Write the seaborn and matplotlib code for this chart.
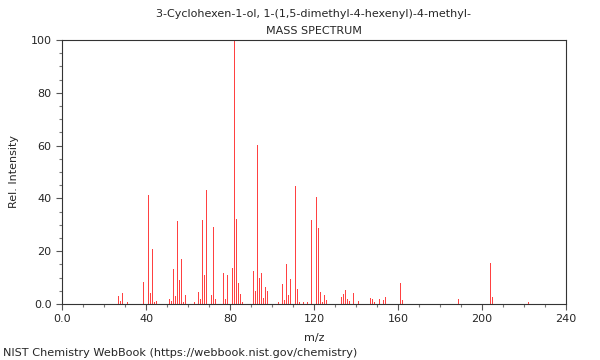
#!/usr/bin/env python3
"""Spectre de masse : 3-Cyclohexen-1-ol, 1-(1,5-dimethyl-4-hexenyl)-4-methyl-"""

import pandas as pd
import matplotlib
matplotlib.use('Agg')
import matplotlib.pyplot as plt
from matplotlib.ticker import MultipleLocator, FixedFormatter, FixedLocator
import seaborn as sns

MZ = [27, 28, 29, 31, 39, 40, 41, 42, 43, 44, 45, 51, 52, 53, 54, 55, 56,
      57, 58, 59, 63, 65, 66, 67, 68, 69, 70, 71, 72, 73, 77, 78, 79, 80,
      81, 82, 83, 84, 85, 86, 91, 92, 93, 94, 95, 96, 97, 98, 103, 105, 106,
      107, 108, 109, 110, 111, 112, 113, 115, 117, 119, 120, 121, 122, 123,
      124, 125, 126, 133, 134, 135, 136, 137, 139, 140, 141, 147, 148, 149,
      151, 153, 154, 161, 162, 189, 204, 205, 222]
INTENSITY = [3.0, 1.0, 4.0, 0.8, 8.3, 2.5, 41.3, 4.0, 20.7, 0.8, 1.0, 1.9,
             1.0, 13.1, 3.0, 31.6, 9.1, 17.0, 0.9, 3.4, 0.8, 4.5, 2.0, 31.8,
             10.9, 43.2, 7.4, 3.3, 29.2, 2.0, 11.7, 2.0, 10.9, 2.1, 13.6,
             100.0, 32.2, 8.0, 3.8, 0.8, 12.5, 4.8, 60.1, 9.8, 11.7, 2.3, 6.3,
             4.9, 0.8, 7.6, 1.5, 15.0, 3.4, 9.5, 9.2, 44.7, 5.8, 0.8, 0.8,
             0.8, 31.8, 5.3, 40.7, 28.9, 4.5, 0.9, 3.3, 1.6, 2.7, 3.9, 5.3,
             1.8, 1.0, 4.0, 7.7, 1.0, 2.3, 1.9, 0.8, 1.8, 1.5, 2.7, 8.0, 1.5,
             1.9, 15.5, 2.7, 0.8]

X_TICKS = [0, 40, 80, 120, 160, 200, 240]
X_LABELS = ['0.0', '40', '80', '120', '160', '200', '240']
Y_TICKS = [0, 20, 40, 60, 80, 100]
Y_LABELS = ['0.0', '20', '40', '60', '80', '100']

TITLE_1 = '3-Cyclohexen-1-ol, 1-(1,5-dimethyl-4-hexenyl)-4-methyl-'
TITLE_2 = 'MASS SPECTRUM'
FOOTER = 'NIST Chemistry WebBook (https://webbook.nist.gov/chemistry)'

sns.set_style('ticks')
plt.rcParams['font.family'] = ['DejaVu Sans']
plt.rcParams['font.size'] = 8

df = pd.DataFrame({'mz': MZ, 'intensity': INTENSITY})

fig = plt.figure(figsize=(6, 3.6), dpi=100)
ax = fig.add_axes([62 / 600, 1 - 304 / 360, 504 / 600, 264 / 360])

sns.histplot(data=df, x='mz', weights='intensity', discrete=True, shrink=0.45,
             color='#ff2020', alpha=0.85, linewidth=0, ax=ax)

ax.set_xlim(0, 240)
ax.set_ylim(0, 100)
ax.xaxis.set_major_locator(FixedLocator(X_TICKS))
ax.xaxis.set_major_formatter(FixedFormatter(X_LABELS))
ax.xaxis.set_minor_locator(MultipleLocator(10))
ax.yaxis.set_major_locator(FixedLocator(Y_TICKS))
ax.yaxis.set_major_formatter(FixedFormatter(Y_LABELS))
ax.yaxis.set_minor_locator(MultipleLocator(5))
ax.tick_params(which='major', length=4, width=0.8, labelsize=8, color='#555555')
ax.tick_params(which='minor', length=2.5, width=0.8, color='#777777')

for side in ['left', 'bottom', 'top', 'right']:
    ax.spines[side].set_visible(True)
    ax.spines[side].set_color('#333333')
    ax.spines[side].set_linewidth(0.8)

ax.set_xlabel('m/z', fontsize=8, labelpad=6)
ax.set_ylabel('Rel. Intensity', fontsize=8, labelpad=8)

# Titre sur deux lignes, centré sur les axes
fig.text(314 / 600, 1 - 14 / 360, TITLE_1, fontsize=8, ha='center', va='center')
fig.text(314 / 600, 1 - 30.5 / 360, TITLE_2, fontsize=8, ha='center', va='center')

fig.text(3 / 600, 1 - 353 / 360, FOOTER, fontsize=8.15, ha='left', va='center')

fig.savefig('out.png', dpi=100)
plt.close(fig)
